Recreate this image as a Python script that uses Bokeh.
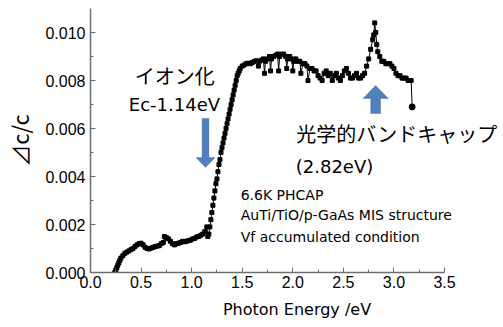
from bokeh.plotting import figure
from bokeh.models import FixedTicker, NumeralTickFormatter, Label, PolyAnnotation
from bokeh.embed import file_html
from bokeh.resources import INLINE

# Photon energy (eV)
energy = [0.24, 0.25, 0.26, 0.27, 0.28, 0.29, 0.30, 0.32, 0.34, 0.36, 0.38, 0.40, 0.42, 0.44,
          0.46, 0.48, 0.50, 0.52, 0.54, 0.56, 0.58, 0.60, 0.62, 0.64, 0.66, 0.68, 0.70, 0.72,
          0.73, 0.75, 0.77, 0.79, 0.81, 0.83, 0.85, 0.87, 0.89, 0.91, 0.93, 0.95, 0.97, 0.99,
          1.01, 1.03, 1.05, 1.07, 1.09, 1.11, 1.13, 1.15, 1.16, 1.17, 1.18, 1.19, 1.20, 1.21,
          1.22, 1.23, 1.24, 1.25, 1.26, 1.27, 1.28, 1.29, 1.30, 1.31, 1.32, 1.33, 1.34, 1.35,
          1.36, 1.37, 1.38, 1.39, 1.40, 1.41, 1.42, 1.43, 1.44, 1.45, 1.46, 1.47, 1.48, 1.50,
          1.52, 1.54, 1.56, 1.58, 1.60, 1.62, 1.64, 1.66, 1.67, 1.69, 1.71, 1.72, 1.73, 1.75,
          1.77, 1.78, 1.79, 1.81, 1.83, 1.85, 1.86, 1.87, 1.89, 1.91, 1.93, 1.94, 1.95, 1.97,
          1.99, 2.00, 2.01, 2.03, 2.05, 2.07, 2.08, 2.10, 2.12, 2.14, 2.15, 2.17, 2.19, 2.21,
          2.23, 2.25, 2.27, 2.29, 2.31, 2.33, 2.35, 2.37, 2.39, 2.41, 2.43, 2.45, 2.47, 2.49,
          2.51, 2.53, 2.55, 2.57, 2.59, 2.61, 2.63, 2.65, 2.67, 2.69, 2.71, 2.73, 2.75, 2.77,
          2.79, 2.80, 2.81, 2.82, 2.83, 2.84, 2.86, 2.88, 2.90, 2.92, 2.94, 2.96, 2.98, 3.00,
          3.02, 3.04, 3.06, 3.08, 3.10, 3.12, 3.14, 3.16, 3.17, 3.18]

# delta C / C
dcc = [0.0000, 0.0001, 0.0002, 0.0003, 0.0004, 0.0005, 0.0006, 0.0007, 0.0008, 0.00085, 0.0009,
       0.00095, 0.0010, 0.00108, 0.00115, 0.0012, 0.00122, 0.00115, 0.00105, 0.0010, 0.00098,
       0.00102, 0.00105, 0.00108, 0.0011, 0.00112, 0.0012, 0.00125, 0.0015, 0.00145, 0.0014,
       0.0013, 0.0012, 0.00115, 0.0012, 0.00122, 0.00125, 0.0013, 0.00128, 0.0013, 0.00133,
       0.00135, 0.0014, 0.00142, 0.00148, 0.0015, 0.00155, 0.0016, 0.0017, 0.0019, 0.0015,
       0.0016, 0.0019, 0.0022, 0.0025, 0.0028, 0.0031, 0.0034, 0.0037, 0.0039, 0.0042, 0.0045,
       0.0047, 0.0050, 0.0052, 0.0054, 0.0056, 0.0058, 0.0060, 0.0062, 0.0064, 0.0066, 0.0068,
       0.0070, 0.0072, 0.0074, 0.0076, 0.0078, 0.0080, 0.0082, 0.0083, 0.0084, 0.0085, 0.0086,
       0.00865, 0.0087, 0.00872, 0.0087, 0.00875, 0.0088, 0.00882, 0.0086, 0.0088, 0.00885,
       0.0089, 0.0083, 0.0088, 0.0089, 0.0090, 0.0084, 0.0089, 0.0090, 0.00905, 0.0091, 0.0084,
       0.0090, 0.0091, 0.0091, 0.0090, 0.0085, 0.0089, 0.0090, 0.0089, 0.0084, 0.0088, 0.0089,
       0.0088, 0.0088, 0.0083, 0.0087, 0.0087, 0.0086, 0.0080, 0.0085, 0.0085, 0.0084, 0.0084,
       0.0082, 0.0081, 0.0080, 0.0083, 0.0084, 0.0082, 0.0083, 0.0080, 0.0082, 0.0083, 0.0081,
       0.0080, 0.0082, 0.0084, 0.0085, 0.0083, 0.0081, 0.0081, 0.0082, 0.0083, 0.0081, 0.0081,
       0.0082, 0.0083, 0.0086, 0.0089, 0.0093, 0.0097, 0.0099, 0.0104, 0.0100, 0.0095, 0.0092,
       0.0090, 0.0088, 0.0088, 0.0087, 0.0087, 0.0087, 0.0086, 0.0085, 0.0083, 0.0082, 0.0082,
       0.0081, 0.0081, 0.0081, 0.0080, 0.0080, 0.0080, 0.0069]

x_ticks = [0.0, 0.5, 1.0, 1.5, 2.0, 2.5, 3.0, 3.5]
x_minor = [0.25, 0.75, 1.25, 1.75, 2.25, 2.75, 3.25]
y_ticks = [0.000, 0.002, 0.004, 0.006, 0.008, 0.010]
y_minor = [0.001, 0.003, 0.005, 0.007, 0.009]

AXIS_GRAY = "#6e6e6e"

# frame spans to the right edge so that annotations are not clipped;
# the x axis itself is bounded to 0..3.5 (0 at px 83, 3.5 at px 443)
p = figure(width=503, height=327, output_backend="svg", toolbar_location=None,
           x_range=(0, 4.083), y_range=(0, 0.011),
           min_border_left=83, min_border_right=0, min_border_top=8, min_border_bottom=55)
p.outline_line_color = None
p.xgrid.visible = False
p.ygrid.visible = False
p.background_fill_color = "white"
p.border_fill_color = "white"

p.xaxis.ticker = FixedTicker(ticks=x_ticks, minor_ticks=x_minor)
p.yaxis.ticker = FixedTicker(ticks=y_ticks, minor_ticks=y_minor)
p.xaxis.formatter = NumeralTickFormatter(format="0.0")
p.yaxis.formatter = NumeralTickFormatter(format="0.000")
p.xaxis.bounds = (0, 3.5)

for ax in (p.xaxis, p.yaxis):
    ax.axis_line_color = AXIS_GRAY
    ax.axis_line_width = 1.5
    ax.major_tick_line_color = AXIS_GRAY
    ax.minor_tick_line_color = AXIS_GRAY
    ax.major_tick_in = 5
    ax.major_tick_out = 0
    ax.minor_tick_in = 3
    ax.minor_tick_out = 0
    ax.major_label_text_font = "Liberation Sans"
    ax.major_label_text_font_size = "16px"
    ax.major_label_text_color = "black"
    ax.axis_label_text_font_style = "normal"
    ax.axis_label_text_color = "black"

p.xaxis.major_label_standoff = 3
p.yaxis.major_label_standoff = 5
p.xaxis.axis_label = "Photon Energy /eV"
p.xaxis.axis_label_text_font = "DejaVu Sans"
p.xaxis.axis_label_text_font_size = "16px"
p.xaxis.axis_label_standoff = 9
p.yaxis.axis_label = "⊿c/c"
p.yaxis.axis_label_text_font = "Noto Sans CJK JP"
p.yaxis.axis_label_text_font_size = "22px"
p.yaxis.axis_label_standoff = 7

# data
p.line(energy, dcc, line_color="black", line_width=1)
p.scatter(energy, dcc, marker="square", size=4, color="black")
p.scatter(energy[-1:], dcc[-1:], marker="circle", size=6, color="black")

# block arrows
BLUE = "#4f81bd"
EDGE = "#385d8a"
# down arrow at ~1.14 eV
cx, top, base, tip, sw, hw = 1.137, 0.00642, 0.00479, 0.00438, 0.034, 0.095
p.add_layout(PolyAnnotation(
    xs=[cx - sw, cx + sw, cx + sw, cx + hw, cx, cx - hw, cx - sw],
    ys=[top, top, base, base, tip, base, base],
    fill_color=BLUE, fill_alpha=1, line_color=EDGE, line_width=1))
# up arrow at ~2.82 eV
cx, bot, base, tip, sw, hw = 2.819, 0.00662, 0.00725, 0.00779, 0.049, 0.126
p.add_layout(PolyAnnotation(
    xs=[cx - sw, cx + sw, cx + sw, cx + hw, cx, cx - hw, cx - sw],
    ys=[bot, bot, base, base, tip, base, base],
    fill_color=BLUE, fill_alpha=1, line_color=EDGE, line_width=1))

def add_label(x, y, text, font, size):
    p.add_layout(Label(x=x, y=y, text=text, text_font=font, text_font_size=size,
                       text_align="left", text_baseline="middle", text_color="black"))

add_label(0.437, 0.00821, "イオン化", "Noto Sans CJK JP", "20px")
add_label(0.379, 0.00700, "Ec-1.14eV", "DejaVu Sans", "18px")
add_label(2.035, 0.00579, "光学的バンドキャップ", "Noto Sans CJK JP", "20px")
add_label(2.029, 0.00442, "(2.82eV)", "DejaVu Sans", "18px")
add_label(1.485, 0.00321, "6.6K PHCAP", "DejaVu Sans", "14px")
add_label(1.485, 0.00238, "AuTi/TiO/p-GaAs MIS structure", "DejaVu Sans", "14px")
add_label(1.485, 0.00150, "Vf accumulated condition", "DejaVu Sans", "14px")

open("out.html", "w").write(file_html(p, INLINE))
